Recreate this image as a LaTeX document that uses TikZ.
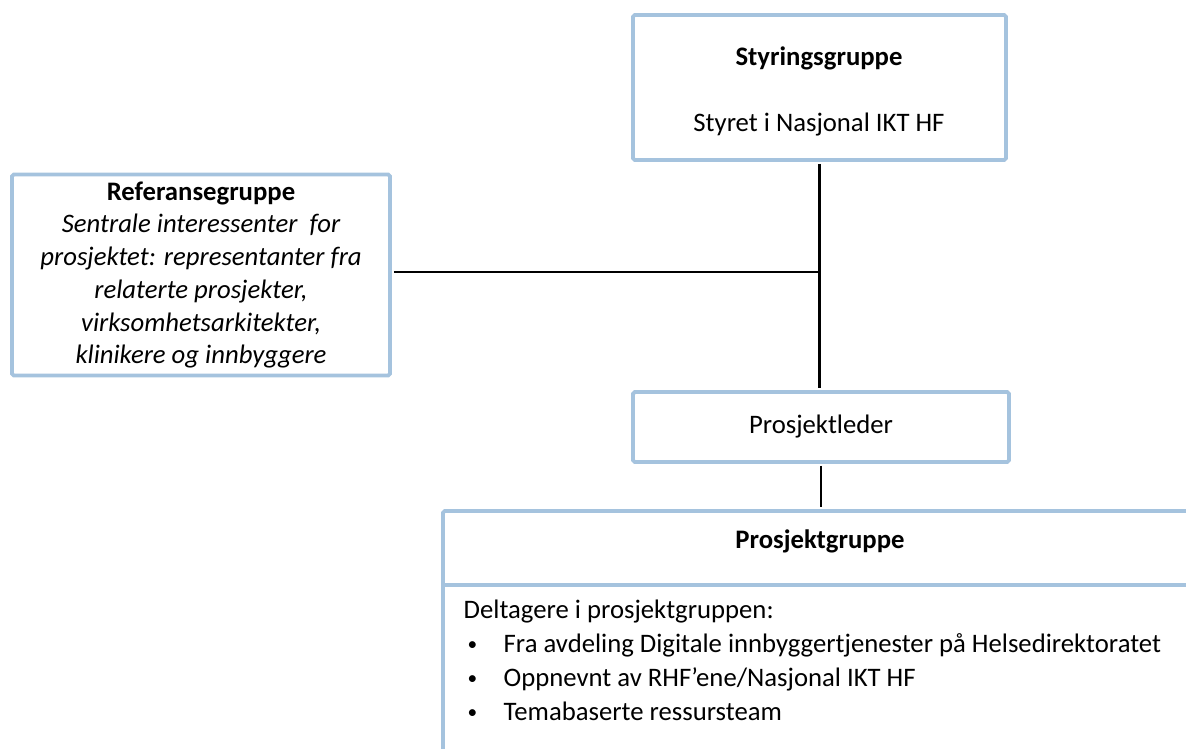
\documentclass[tikz,border=0pt]{standalone}
\usepackage{fontspec}
\setmainfont{Carlito}
\usepackage{tikz}
\usetikzlibrary{positioning, calc}
\definecolor{boxblue}{RGB}{165,195,222}
\newcommand{\punkt}{\hspace{0.08cm}\makebox[0.72cm][l]{\raisebox{0.15ex}{\fontsize{11}{11}\selectfont\textbullet}}}

\begin{document}
\begin{tikzpicture}[
    box/.style={draw=boxblue, fill=white, rectangle, rounded corners=1pt, line width=2.2pt, inner sep=0pt},
    txt/.style={font=\fontsize{15.2}{18.6}\selectfont},
    line/.style={draw=black, line width=1.4pt, shorten <=1.1pt, shorten >=1.1pt}
]
    \useasboundingbox (0,0) rectangle (23.72,-14.98);
    \clip (0,0) rectangle (23.72,-14.98);

    % Styringsgruppe
    \node[box, minimum width=7.46cm, minimum height=2.9cm] (styring) at (16.39,-1.75) {};
    \node[txt, anchor=base] (styringtittel) at (16.38,-1.30) {\textbf{Styringsgruppe}};
    \node[txt, anchor=base] (styret) at (16.38,-2.62) {Styret i Nasjonal IKT HF};

    % Referansegruppe
    \node[box, txt, minimum width=7.56cm, minimum height=4.02cm, align=center] (referanse) at (4.02,-5.50) {
        \textbf{Referansegruppe}\\
        \itshape Sentrale interessenter\ \ for\\
        \itshape prosjektet: representanter fra\\
        \itshape relaterte prosjekter,\\
        \itshape virksomhetsarkitekter,\\
        \itshape klinikere og innbyggere
    };

    % Prosjektleder
    \node[box, txt, minimum width=7.52cm, minimum height=1.4cm] (leder) at (16.42,-8.54) {Prosjektleder};

    % Prosjektgruppe
    \node[box, minimum width=16.14cm, minimum height=5.78cm] (gruppe) at (16.93,-13.11) {};
    \draw[boxblue, line width=2.2pt] ($(gruppe.north west)+(0,-1.52)$) -- ($(gruppe.north east)+(0,-1.52)$);
    \node[txt, anchor=base] (gruppetittel) at (16.4,-10.96) {\textbf{Prosjektgruppe}};
    \node[txt, anchor=base west] (deltagere) at (9.15,-12.36) {Deltagere i prosjektgruppen:};
    \node[txt, anchor=base west] (punkt1) at (9.15,-13.04) {\punkt Fra avdeling Digitale innbyggertjenester på Helsedirektoratet};
    \node[txt, anchor=base west] (punkt2) at (9.15,-13.72) {\punkt Oppnevnt av RHF’ene/Nasjonal IKT HF};
    \node[txt, anchor=base west] (punkt3) at (9.15,-14.40) {\punkt Temabaserte ressursteam};

    % Linjer
    \coordinate (kryss) at (styring.south |- 0,-5.44);
    \draw[line] (styring.south) -- (styring.south |- leder.north);
    \draw[line, shorten >=0pt] (referanse.east |- kryss) -- (kryss);
    \draw[line] (leder.south) -- (leder.south |- gruppe.north);
\end{tikzpicture}
\end{document}
